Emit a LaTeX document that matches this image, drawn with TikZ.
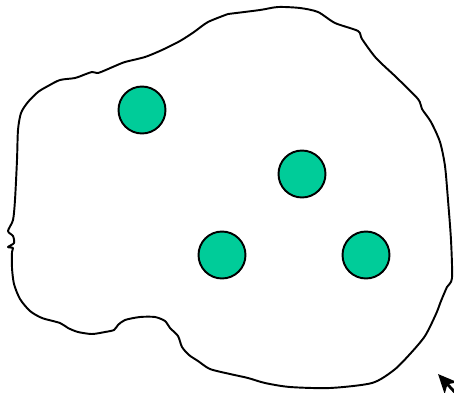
\documentclass[tikz,border=0pt]{standalone}
\usepackage{xcolor}
\usepackage{tikz}
\usetikzlibrary{arrows.meta}
\definecolor{dotgreen}{RGB}{0,204,153}

\begin{document}
\begin{tikzpicture}[
  x=0.02cm, y=-0.02cm,
  outline/.style={draw=black, line width=1.1pt, line join=round},
  dot/.style={circle, draw=black, line width=1.1pt, fill=dotgreen, minimum size=0.94cm, inner sep=0pt},
  pointer/.style={-{Stealth[length=3.8mm, width=3.4mm, inset=1mm]}, line width=1.6pt}
]
\useasboundingbox (0,0) rectangle (454,393);

% region outline
\draw[outline] plot[smooth, tension=0.45] coordinates {
  (228,14) (260,10) (278,7) (300,8) (318,12) (335,23) (358,31) (362,39)
  (376,58) (396,77) (418,99) (422,109) (431,122) (440,142) (445,166)
  (448,200) (451,240) (452,278) (447,287) (441,301) (436,314) (425,336)
  (410,354) (394,370) (372,383) (330,388) (290,387) (265,383) (248,378)
  (230,374) (210,369) (198,361) (189,355) (182,347) (178,336) (170,328)
  (165,321) (155,317) (140,317) (125,320) (118,325) (114,330) (105,332)
  (92,334) (78,332) (68,328) (60,323) (42,318) (30,311) (20,299) (14,284)
  (12,268) (12,252) (13,248) (8,247) (14,243) (13,236) (8,231) (13,220)
  (15,200) (17,160) (18,130) (21,113) (28,102) (38,92) (48,86) (60,80)
  (75,78) (86,74) (92,72) (97,73) (101,72) (115,66) (125,62) (145,57)
  (162,50) (180,41) (194,32) (208,22) (228,14)};

% particles
\node[dot] (p1) at (142,110) {};
\node[dot] (p2) at (302,174) {};
\node[dot] (p3) at (222,255) {};
\node[dot] (p4) at (366,255) {};

% pointer at the corner
\coordinate (tail) at (462,400);
\coordinate (tip) at (438,374);
\draw[pointer] (tail) -- (tip);
\end{tikzpicture}
\end{document}
